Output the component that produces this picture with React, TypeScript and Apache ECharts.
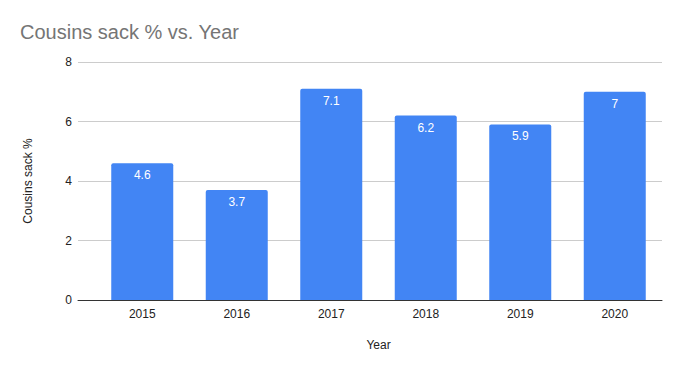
import React, { useEffect, useRef } from "react";
import * as echarts from "echarts";

const years = ["2015", "2016", "2017", "2018", "2019", "2020"];
const sackPct = [4.6, 3.7, 7.1, 6.2, 5.9, 7];
const yTicks = { min: 0, max: 8, interval: 2 };

export default function App() {
  const ref = useRef<HTMLDivElement>(null);
  useEffect(() => {
    if (!ref.current) return;
    const chart = echarts.init(ref.current, null, { renderer: "svg" });
    const font = "Arial, 'Liberation Sans', sans-serif";
    chart.setOption({
      animation: false,
      backgroundColor: "#ffffff",
      textStyle: { fontFamily: font },
      title: {
        text: "Cousins sack % vs. Year",
        left: 15,
        top: 17,
        textStyle: { fontSize: 20, fontWeight: "normal", color: "#757575", fontFamily: font },
      },
      grid: [
        { left: 95, right: 36, top: 62, bottom: 71 },
        { left: 78, right: 36, top: 62, bottom: 71 },
      ],
      xAxis: [
        {
          type: "category",
          gridIndex: 0,
          data: years,
          axisLine: { show: false },
          axisTick: { show: false },
          axisLabel: { color: "#222222", fontSize: 12, margin: 8, fontFamily: font },
          name: "Year",
          nameLocation: "middle",
          nameGap: 39,
          nameTextStyle: { color: "#222222", fontSize: 12, fontFamily: font },
        },
        {
          type: "category",
          gridIndex: 1,
          data: [],
          axisLine: { show: true, lineStyle: { color: "#333333", width: 1 } },
          axisTick: { show: false },
          axisLabel: { show: false },
        },
      ],
      yAxis: [
        {
          type: "value",
          gridIndex: 0,
          ...yTicks,
          show: false,
          splitLine: { show: false },
        },
        {
          type: "value",
          gridIndex: 1,
          ...yTicks,
          axisLine: { show: false },
          axisTick: { show: false },
          axisLabel: { color: "#222222", fontSize: 12, margin: 6, fontFamily: font },
          splitLine: { show: true, lineStyle: { color: "#cccccc", width: 1 } },
          name: "Cousins sack %",
          nameLocation: "middle",
          nameGap: 44,
          nameRotate: 90,
          nameTextStyle: { color: "#222222", fontSize: 12, fontFamily: font },
        },
      ],
      series: [
        {
          type: "bar",
          xAxisIndex: 0,
          yAxisIndex: 0,
          data: sackPct,
          barWidth: 62,
          itemStyle: { color: "#4285F4", borderRadius: [2, 2, 0, 0] },
          label: {
            show: true,
            position: "insideTop",
            distance: 6,
            color: "#ffffff",
            fontSize: 12,
            fontFamily: font,
          },
          z: 3,
        },
      ],
    });
    return () => chart.dispose();
  }, []);
  return <div ref={ref} style={{ width: 698, height: 371, margin: -8 }} />;
}
